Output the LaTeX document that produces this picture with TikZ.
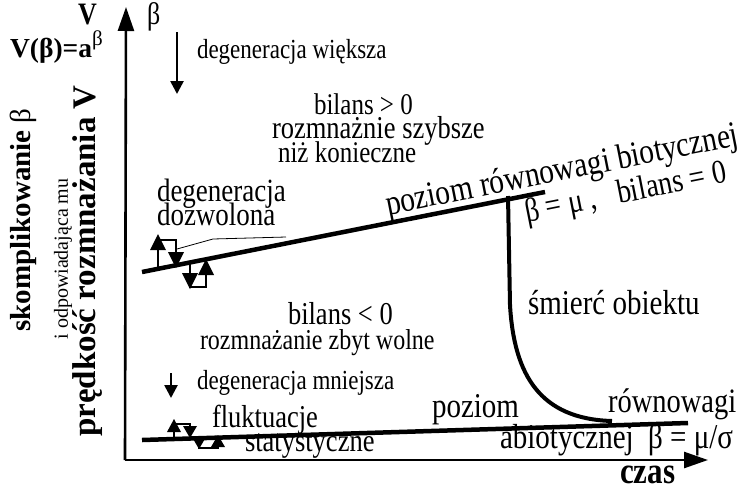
\documentclass[tikz,border=0pt]{standalone}
\usepackage{fontspec}
\setmainfont{Liberation Serif}
\usetikzlibrary{arrows.meta}
\newcommand\fsz[1]{\fontsize{#1}{#1}\selectfont}
\begin{document}
\begin{tikzpicture}[x=1pt,y=-1pt,
  lbl/.style={inner sep=0pt, outer sep=0pt, anchor=base west, yscale=1.2},
  vlbl/.style={inner sep=0pt, outer sep=0pt, anchor=center, rotate=90},
  level/.style={line width=4.5pt},
  axis/.style={line width=2.6pt, -{Triangle[length=24pt,width=16pt]}},
  flux/.style={line width=2.5pt},
  down/.style={line width=2.6pt, -{Triangle[length=13pt,width=13pt]}},
]
\useasboundingbox (0,0) rectangle (743,493);

% axes
\coordinate (O) at (125,460);
\coordinate (ytip) at (126,7);
\coordinate (xtip) at (708,460);
\draw[axis] (O) -- (ytip);
\draw[axis] (O) -- (xtip);

% axis labels
\node[lbl] (V) at (78,24) {\fsz{26}\bfseries V};
\node[lbl] (beta) at (147,24) {\fsz{26}β};
\node[inner sep=0pt, outer sep=0pt, anchor=base west] (Vfun) at (10,57) {\fsz{27.5}\bfseries V(β)=a\raisebox{12pt}{\fsz{21}\mdseries β}};
\node[lbl] (czas) at (620,483) {\fsz{31}\bfseries czas};

\node[vlbl] (skom) at (23,220) {\fsz{29}\bfseries skomplikowanie \mdseries β};
\node[vlbl] (odp) at (63,259) {\fsz{20}i odpowiadająca mu};
\node[vlbl] (pred) at (88,261) {\fsz{33}\bfseries prędkość rozmnażania V};

% degeneracja większa
\coordinate (dw1) at (177,32);
\coordinate (dw2) at (177,94);
\draw[down] (dw1) -- (dw2);
\node[lbl] (dwt) at (197,58) {\fsz{23}degeneracja większa};

\node[lbl] (b1) at (314,114) {\fsz{25}bilans > 0};
\node[lbl] (b2) at (272,138) {\fsz{26.5}rozmnażnie szybsze};
\node[lbl] (b3) at (278,162) {\fsz{25}niż konieczne};

% biotic level
\coordinate (bioL) at (142,272);
\coordinate (bioR) at (545,192);
\draw[level] (bioL) -- (bioR);
\node[rotate=11.2, lbl] (biot) at (388,215) {\fsz{29.5}poziom równowagi biotycznej};
\node[rotate=11.2, lbl] (bmu) at (527,222) {\fsz{28}β = μ ,\ \ \ bilans = 0};

% degeneracja dozwolona
\node[lbl] (dd1) at (157,201) {\fsz{27}degeneracja};
\node[lbl] (dd2) at (157,225) {\fsz{27}dozwolona};
\coordinate (ld1) at (286,237);
\coordinate (ld2) at (213,239);
\coordinate (ld3) at (177,249);
\draw[line width=0.8pt] (ld1) -- (ld2) -- (ld3);

% flux symbols on biotic level
\draw[flux] (158,269) -- (158,240) -- (176,240) -- (176,256);
\fill (158,234) -- (150,250) -- (166,250) -- cycle;
\fill (176,268) -- (168,252) -- (184,252) -- cycle;
\draw[flux] (190,263) -- (190,287) -- (206,287) -- (206,272);
\fill (190,289) -- (182,273) -- (198,273) -- cycle;
\fill (206,259) -- (198,275) -- (214,275) -- cycle;

% death curve
\coordinate (dc1) at (508,196);
\coordinate (dc2) at (510,305);
\coordinate (dc3) at (612,421);
\draw[line width=4pt] (dc1) -- (dc2) .. controls (514,375) and (540,419) .. (dc3);
\node[lbl] (smierc) at (528,314) {\fsz{29}śmierć obiektu};

\node[lbl] (b4) at (288,324) {\fsz{26.5}bilans < 0};
\node[lbl] (b5) at (200,349) {\fsz{24}rozmnażanie zbyt wolne};

% degeneracja mniejsza
\coordinate (dm1) at (171,373);
\coordinate (dm2) at (171,398);
\draw[down] (dm1) -- (dm2);
\node[lbl] (dmt) at (197,389) {\fsz{23}degeneracja mniejsza};

% abiotic level
\coordinate (abL) at (142,440);
\coordinate (abR) at (688,423);
\draw[level] (abL) -- (abR);
\node[lbl] (pz) at (432,417) {\fsz{29}poziom};
\node[lbl] (rw) at (608,412) {\fsz{28.5}równowagi};
\node[lbl] (ab) at (500,448) {\fsz{29}abiotycznej\ \ β = μ/σ};
\node[lbl] (fl) at (212,427) {\fsz{26.5}fluktuacje};
\node[lbl] (st) at (245,451) {\fsz{26.5}statystyczne};

% flux symbols on abiotic level
\draw[flux] (174,437) -- (174,424) -- (190,424) -- (190,430);
\fill (174,419) -- (167,432) -- (181,432) -- cycle;
\fill (190,438) -- (183,426) -- (197,426) -- cycle;
\draw[flux] (199,437) -- (199,448) -- (218,448) -- (218,442);
\fill (199,449) -- (192,437) -- (206,437) -- cycle;
\fill (218,435) -- (211,447) -- (225,447) -- cycle;
\end{tikzpicture}
\end{document}
